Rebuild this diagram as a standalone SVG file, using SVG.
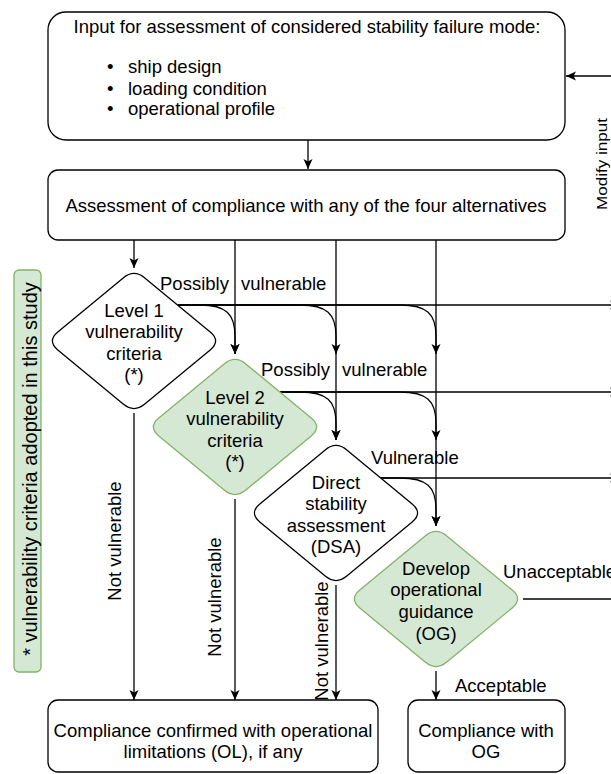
<svg xmlns="http://www.w3.org/2000/svg" width="611" height="774" viewBox="0 0 611 774">
<defs>
<style>
text{font-family:"Liberation Sans",Arial,sans-serif;font-size:18.5px;fill:#000}
.m{text-anchor:middle}
.box{fill:#fff;stroke:#000;stroke-width:1.3}
.dia{fill:#fff;stroke:#000;stroke-width:1.3}
.grn{fill:#d5e8d4;stroke:#82b366;stroke-width:1.3}
.c{fill:none;stroke:#000;stroke-width:1.3}
.a{marker-end:url(#arr)}
</style>
<marker id="arr" viewBox="0 0 10 10" refX="10" refY="5" markerWidth="10" markerHeight="10" markerUnits="userSpaceOnUse" orient="auto">
<path d="M0,0.5 L10,5 L0,9.5 L2.5,5 Z" fill="#000"/>
</marker>
</defs>
<rect width="611" height="774" fill="#fff"/>

<g id="connectors">
<path class="c a" d="M308,140 V169"/>
<path class="c a" d="M134,240 V268"/>
<path class="c a" d="M235,240 V354"/>
<path class="c a" d="M336,240 V440"/>
<path class="c a" d="M436,240 V526"/>
<path class="c a" d="M178,305 H620"/>
<path class="c a" d="M178,305 H200 C226,305 235,314 235,336 V354"/>
<path class="c a" d="M178,305 H300 C327,305 336,314 336,336 V354"/>
<path class="c a" d="M178,305 H400 C427,305 436,314 436,336 V354"/>
<path class="c a" d="M280,392 H620"/>
<path class="c a" d="M280,392 H300 C327,392 336,401 336,423 V440"/>
<path class="c a" d="M280,392 H400 C427,392 436,401 436,423 V440"/>
<path class="c a" d="M381,478 H620"/>
<path class="c a" d="M381,478 H400 C427,478 436,487 436,509 V526"/>
<path class="c a" d="M134,413 V700"/>
<path class="c a" d="M235,499 V700"/>
<path class="c a" d="M336,585 V700"/>
<path class="c a" d="M436,671 V700"/>
<path class="c" d="M523,599 H611"/>
<path class="c a" d="M611,76 H566"/>
<text x="160" y="289.5" word-spacing="7">Possibly vulnerable</text>
<text x="261" y="375.5" word-spacing="7">Possibly vulnerable</text>
<text x="371" y="463.5">Vulnerable</text>
<text x="503" y="577.5">Unacceptable</text>
<text x="455" y="691.5">Acceptable</text>
<text class="m" transform="translate(121,541) rotate(-90)">Not vulnerable</text>
<text class="m" transform="translate(221,597) rotate(-90)">Not vulnerable</text>
<text class="m" transform="translate(328,641) rotate(-90)">Not vulnerable</text>
<text class="m" style="font-size:14.5px" textLength="92" lengthAdjust="spacingAndGlyphs" transform="translate(607,164) rotate(-90)">Modify input</text>
</g>

<g id="input">
<rect class="box" x="48" y="12" width="517" height="128" rx="18"/>
<text class="m" x="307" y="33">Input for assessment of considered stability failure mode:</text>
<text x="107" y="73">•</text><text x="128" y="73">ship design</text>
<text x="107" y="94.5">•</text><text x="128" y="94.5">loading condition</text>
<text x="107" y="115">•</text><text x="128" y="115">operational profile</text>
</g>

<g id="assessment">
<rect class="box" x="48" y="170" width="517" height="70" rx="10"/>
<text class="m" x="306" y="211.5">Assessment of compliance with any of the four alternatives</text>
</g>

<g id="level1">
<path class="dia" d="M123.2,277.9 Q134,269 144.8,277.9 L210.2,332.1 Q221,341 210.2,349.9 L144.8,404.1 Q134,413 123.2,404.1 L57.8,349.9 Q47,341 57.8,332.1 Z"/>
<text class="m" x="134" y="316.5">Level 1</text>
<text class="m" x="134" y="338">vulnerability</text>
<text class="m" x="134" y="359.5">criteria</text>
<text class="m" x="134" y="381">(*)</text>
</g>

<g id="level2">
<path class="grn" d="M224.2,363.9 Q235,355 245.8,363.9 L311.2,418.1 Q322,427 311.2,435.9 L245.8,490.1 Q235,499 224.2,490.1 L158.8,435.9 Q148,427 158.8,418.1 Z"/>
<text class="m" x="235" y="403.5">Level 2</text>
<text class="m" x="235" y="425">vulnerability</text>
<text class="m" x="235" y="446.5">criteria</text>
<text class="m" x="235" y="468">(*)</text>
</g>

<g id="dsa">
<path class="dia" d="M325.2,449.9 Q336,441 346.8,449.9 L412.2,504.1 Q423,513 412.2,521.9 L346.8,576.1 Q336,585 325.2,576.1 L259.8,521.9 Q249,513 259.8,504.1 Z"/>
<text class="m" x="336" y="488.5">Direct</text>
<text class="m" x="336" y="510">stability</text>
<text class="m" x="336" y="531.5">assessment</text>
<text class="m" x="336" y="553">(DSA)</text>
</g>

<g id="og">
<path class="grn" d="M425.2,535.9 Q436,527 446.8,535.9 L512.2,590.1 Q523,599 512.2,607.9 L446.8,662.1 Q436,671 425.2,662.1 L359.8,607.9 Q349,599 359.8,590.1 Z"/>
<text class="m" x="436" y="574.5">Develop</text>
<text class="m" x="436" y="596">operational</text>
<text class="m" x="436" y="618">guidance</text>
<text class="m" x="436" y="639.5">(OG)</text>
</g>

<g id="compliance-ol">
<rect class="box" x="48" y="700" width="330" height="72" rx="10"/>
<text class="m" x="213" y="736.5">Compliance confirmed with operational</text>
<text class="m" x="213" y="758">limitations (OL), if any</text>
</g>

<g id="compliance-og">
<rect class="box" x="408" y="700" width="157" height="72" rx="10"/>
<text class="m" x="486" y="736.5">Compliance with</text>
<text class="m" x="486" y="758">OG</text>
</g>

<g id="note">
<rect class="grn" x="14" y="270" width="27" height="402" rx="5"/>
<text class="m" style="font-size:20px" transform="translate(37,469) rotate(-90)">* vulnerability criteria adopted in this study</text>
</g>
</svg>
